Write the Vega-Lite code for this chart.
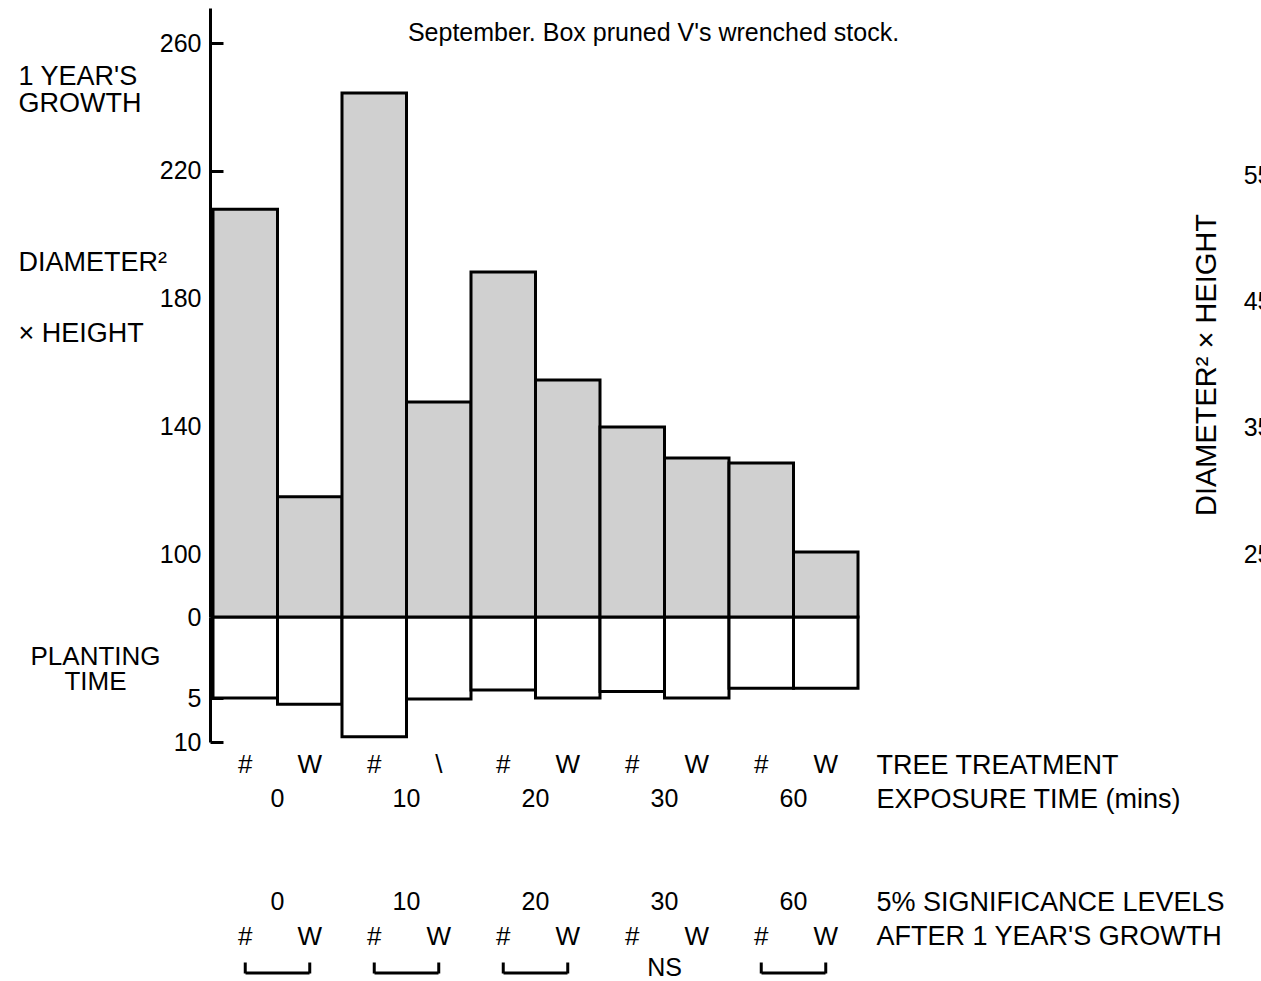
{
  "$schema": "https://vega.github.io/schema/vega-lite/v6.json",
  "width": 645,
  "height": 734,
  "autosize": {"type": "none"},
  "padding": {"left": 213, "top": 8, "right": 403, "bottom": 239},
  "background": "white",
  "title": {
    "text": "September. Box pruned V's wrenched stock.",
    "anchor": "middle",
    "frame": "group",
    "offset": -38,
    "dx": 118,
    "font": "Liberation Sans",
    "fontSize": 25,
    "fontWeight": "normal",
    "color": "black"
  },
  "datasets": {
    "bars": [
      {"exposure": "0", "treatment": "#", "label": "#", "growth": 208.0, "planting": 5.0},
      {"exposure": "0", "treatment": "W", "label": "W", "growth": 117.9, "planting": 5.7},
      {"exposure": "10", "treatment": "#", "label": "#", "growth": 244.4, "planting": 9.4},
      {"exposure": "10", "treatment": "W", "label": "\\", "growth": 147.6, "planting": 5.1},
      {"exposure": "20", "treatment": "#", "label": "#", "growth": 188.3, "planting": 4.5},
      {"exposure": "20", "treatment": "W", "label": "W", "growth": 154.5, "planting": 5.0},
      {"exposure": "30", "treatment": "#", "label": "#", "growth": 139.8, "planting": 4.6},
      {"exposure": "30", "treatment": "W", "label": "W", "growth": 130.1, "planting": 5.0},
      {"exposure": "60", "treatment": "#", "label": "#", "growth": 128.5, "planting": 4.4},
      {"exposure": "60", "treatment": "W", "label": "W", "growth": 100.6, "planting": 4.4}
    ],
    "groups": [
      {"exposure": "0", "significant": true},
      {"exposure": "10", "significant": true},
      {"exposure": "20", "significant": true},
      {"exposure": "30", "significant": false},
      {"exposure": "60", "significant": true}
    ]
  },
  "resolve": {"scale": {"y": "independent"}, "axis": {"y": "independent"}},
  "layer": [
    {
      "data": {"name": "bars"},
      "mark": {"type": "bar", "fill": "white", "stroke": "black", "strokeWidth": 3},
      "encoding": {
        "x": {"field": "exposure", "type": "nominal", "scale": {"type": "band", "domain": ["0", "10", "20", "30", "60"], "paddingInner": 0, "paddingOuter": 0}, "axis": null},
        "xOffset": {"field": "treatment", "type": "nominal", "scale": {"domain": ["#", "W"], "paddingInner": 0, "paddingOuter": 0}},
        "y": {
          "field": "planting", "type": "quantitative",
          "scale": {"domain": [0, 5, 10], "range": [609, 690, 734], "nice": false},
          "axis": {"orient": "left", "offset": 3, "values": [0, 5, 10], "title": null, "domainWidth": 3, "tickWidth": 3, "tickSize": -13, "labelPadding": 22, "labelFontSize": 25}
        }
      }
    },
    {
      "data": {"name": "bars"},
      "mark": {"type": "bar", "fill": "#d0d0d0", "stroke": "black", "strokeWidth": 3},
      "encoding": {
        "x": {"field": "exposure", "type": "nominal", "scale": {"type": "band", "domain": ["0", "10", "20", "30", "60"], "paddingInner": 0, "paddingOuter": 0}, "axis": null},
        "xOffset": {"field": "treatment", "type": "nominal", "scale": {"domain": ["#", "W"], "paddingInner": 0, "paddingOuter": 0}},
        "y": {
          "field": "growth", "type": "quantitative",
          "scale": {"domain": [0, 100, 271], "range": [609, 546, 0], "nice": false},
          "axis": {"orient": "left", "offset": 3, "values": [100, 140, 180, 220, 260], "title": null, "domainWidth": 3, "tickWidth": 3, "tickSize": -13, "labelPadding": 22, "labelFontSize": 25}
        }
      }
    },
    {
      "data": {"name": "groups"},
      "mark": {"type": "rule", "strokeOpacity": 0},
      "encoding": {
        "y": {
          "datum": 100, "type": "quantitative",
          "scale": {"domain": [0, 100, 271], "range": [609, 546, 0], "nice": false},
          "axis": {"orient": "left", "values": [249.6, 191.4, 169.2], "labelExpr": "datum.value === 249.6 ? [\"1 YEAR'S\", \"GROWTH\"] : datum.value === 191.4 ? 'DIAMETER²' : '× HEIGHT'", "labelAlign": "left", "labelPadding": 195, "ticks": false, "tickSize": 0, "domain": false, "title": null, "labelFontSize": 27, "labelLineHeight": 27}
        }
      }
    },
    {
      "data": {"name": "groups"},
      "mark": {"type": "rule", "strokeOpacity": 0},
      "encoding": {
        "y": {
          "datum": 5, "type": "quantitative",
          "scale": {"domain": [0, 5, 10], "range": [609, 690, 734], "nice": false},
          "axis": {"orient": "left", "values": [2.45], "labelExpr": "[\"PLANTING\", \"TIME\"]", "labelAlign": "center", "labelPadding": 118, "ticks": false, "tickSize": 0, "domain": false, "title": null, "labelFontSize": 26, "labelLineHeight": 25}
        }
      }
    },
    {
      "data": {"name": "groups"},
      "mark": {"type": "rule", "strokeOpacity": 0},
      "encoding": {
        "y": {
          "datum": 40, "type": "quantitative",
          "scale": {"domain": [10, 70], "range": [735.5, -22.5], "nice": false, "zero": false},
          "axis": {"orient": "left", "offset": -1062, "values": [25, 35, 45, 55], "ticks": false, "tickSize": 0, "domain": false, "labelPadding": 4, "labelFontSize": 25, "title": "DIAMETER² × HEIGHT", "titleFontSize": 29, "titleFontWeight": "normal", "titlePadding": 22}
        }
      }
    },
    {
      "data": {"name": "bars"},
      "mark": {"type": "text", "fontSize": 26, "color": "black", "font": "Liberation Sans"},
      "encoding": {
        "x": {"field": "exposure", "type": "nominal", "scale": {"type": "band", "domain": ["0", "10", "20", "30", "60"], "paddingInner": 0, "paddingOuter": 0}, "axis": null},
        "xOffset": {"field": "treatment", "type": "nominal", "scale": {"domain": ["#", "W"], "paddingInner": 0, "paddingOuter": 0}},
        "y": {
          "datum": "TREE TREATMENT", "type": "nominal",
          "scale": {"type": "point", "domain": ["TREE TREATMENT", "EXPOSURE TIME (mins)", "gap1", "gap2", "5% SIGNIFICANCE LEVELS", "AFTER 1 YEAR'S GROWTH", "brackets"], "range": [757, 963], "padding": 0},
          "axis": {"orient": "right", "values": ["TREE TREATMENT", "EXPOSURE TIME (mins)", "5% SIGNIFICANCE LEVELS", "AFTER 1 YEAR'S GROWTH"], "domain": false, "ticks": false, "tickSize": 0, "labelPadding": 18, "labelAlign": "left", "labelFontSize": 27, "labelLimit": 0, "title": null}
        },
        "text": {"field": "label"}
      }
    },
    {
      "data": {"name": "groups"},
      "mark": {"type": "text", "fontSize": 25, "color": "black", "font": "Liberation Sans"},
      "encoding": {
        "x": {"field": "exposure", "type": "nominal", "scale": {"type": "band", "domain": ["0", "10", "20", "30", "60"], "paddingInner": 0, "paddingOuter": 0}, "axis": null},
        "y": {
          "datum": "EXPOSURE TIME (mins)", "type": "nominal",
          "scale": {"type": "point", "domain": ["TREE TREATMENT", "EXPOSURE TIME (mins)", "gap1", "gap2", "5% SIGNIFICANCE LEVELS", "AFTER 1 YEAR'S GROWTH", "brackets"], "range": [757, 963], "padding": 0},
          "axis": null
        },
        "text": {"field": "exposure"}
      }
    },
    {
      "data": {"name": "groups"},
      "mark": {"type": "text", "fontSize": 25, "color": "black", "font": "Liberation Sans"},
      "encoding": {
        "x": {"field": "exposure", "type": "nominal", "scale": {"type": "band", "domain": ["0", "10", "20", "30", "60"], "paddingInner": 0, "paddingOuter": 0}, "axis": null},
        "y": {
          "datum": "5% SIGNIFICANCE LEVELS", "type": "nominal",
          "scale": {"type": "point", "domain": ["TREE TREATMENT", "EXPOSURE TIME (mins)", "gap1", "gap2", "5% SIGNIFICANCE LEVELS", "AFTER 1 YEAR'S GROWTH", "brackets"], "range": [757, 963], "padding": 0},
          "axis": null
        },
        "text": {"field": "exposure"}
      }
    },
    {
      "data": {"name": "bars"},
      "mark": {"type": "text", "fontSize": 26, "color": "black", "font": "Liberation Sans"},
      "encoding": {
        "x": {"field": "exposure", "type": "nominal", "scale": {"type": "band", "domain": ["0", "10", "20", "30", "60"], "paddingInner": 0, "paddingOuter": 0}, "axis": null},
        "xOffset": {"field": "treatment", "type": "nominal", "scale": {"domain": ["#", "W"], "paddingInner": 0, "paddingOuter": 0}},
        "y": {
          "datum": "AFTER 1 YEAR'S GROWTH", "type": "nominal",
          "scale": {"type": "point", "domain": ["TREE TREATMENT", "EXPOSURE TIME (mins)", "gap1", "gap2", "5% SIGNIFICANCE LEVELS", "AFTER 1 YEAR'S GROWTH", "brackets"], "range": [757, 963], "padding": 0},
          "axis": null
        },
        "text": {"field": "treatment"}
      }
    },
    {
      "data": {"name": "groups"},
      "transform": [{"filter": "!datum.significant"}],
      "mark": {"type": "text", "fontSize": 25, "color": "black", "font": "Liberation Sans", "yOffset": -3},
      "encoding": {
        "x": {"field": "exposure", "type": "nominal", "scale": {"type": "band", "domain": ["0", "10", "20", "30", "60"], "paddingInner": 0, "paddingOuter": 0}, "axis": null},
        "y": {
          "datum": "brackets", "type": "nominal",
          "scale": {"type": "point", "domain": ["TREE TREATMENT", "EXPOSURE TIME (mins)", "gap1", "gap2", "5% SIGNIFICANCE LEVELS", "AFTER 1 YEAR'S GROWTH", "brackets"], "range": [757, 963], "padding": 0},
          "axis": null
        },
        "text": {"value": "NS"}
      }
    },
    {
      "data": {"name": "groups"},
      "transform": [{"filter": "datum.significant"}],
      "mark": {"type": "tick", "orient": "horizontal", "size": 64, "thickness": 3, "color": "black", "opacity": 1, "yOffset": 2},
      "encoding": {
        "x": {"field": "exposure", "type": "nominal", "scale": {"type": "band", "domain": ["0", "10", "20", "30", "60"], "paddingInner": 0, "paddingOuter": 0}, "axis": null},
        "y": {
          "datum": "brackets", "type": "nominal",
          "scale": {"type": "point", "domain": ["TREE TREATMENT", "EXPOSURE TIME (mins)", "gap1", "gap2", "5% SIGNIFICANCE LEVELS", "AFTER 1 YEAR'S GROWTH", "brackets"], "range": [757, 963], "padding": 0},
          "axis": null
        }
      }
    },
    {
      "data": {"name": "bars"},
      "transform": [
        {"lookup": "exposure", "from": {"data": {"name": "groups"}, "key": "exposure", "fields": ["significant"]}},
        {"filter": "datum.significant"}
      ],
      "mark": {"type": "tick", "orient": "vertical", "size": 11, "thickness": 3, "color": "black", "opacity": 1, "yOffset": -3},
      "encoding": {
        "x": {"field": "exposure", "type": "nominal", "scale": {"type": "band", "domain": ["0", "10", "20", "30", "60"], "paddingInner": 0, "paddingOuter": 0}, "axis": null},
        "xOffset": {"field": "treatment", "type": "nominal", "scale": {"domain": ["#", "W"], "paddingInner": 0, "paddingOuter": 0}},
        "y": {
          "datum": "brackets", "type": "nominal",
          "scale": {"type": "point", "domain": ["TREE TREATMENT", "EXPOSURE TIME (mins)", "gap1", "gap2", "5% SIGNIFICANCE LEVELS", "AFTER 1 YEAR'S GROWTH", "brackets"], "range": [757, 963], "padding": 0},
          "axis": null
        }
      }
    }
  ],
  "config": {
    "view": {"stroke": null},
    "font": "Liberation Sans",
    "axis": {
      "labelFont": "Liberation Sans",
      "titleFont": "Liberation Sans",
      "labelColor": "black",
      "titleColor": "black",
      "domainColor": "black",
      "tickColor": "black",
      "grid": false,
      "labelOverlap": false,
      "labelFlush": false
    }
  }
}
